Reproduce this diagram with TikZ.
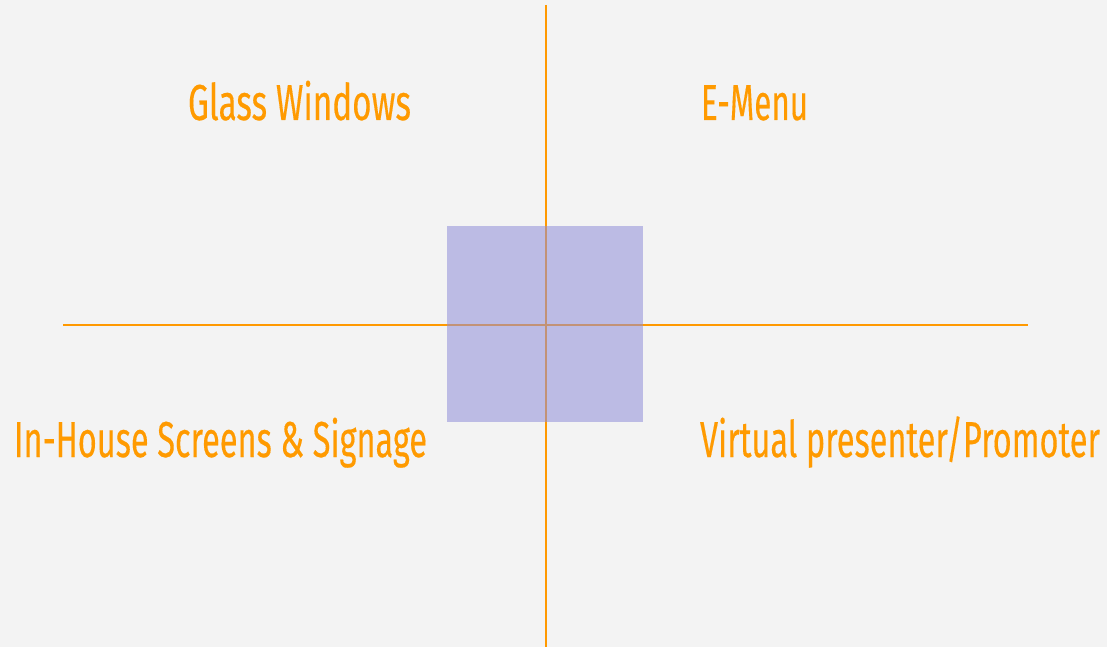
\documentclass[tikz,border=0pt]{standalone}
\usepackage{fontspec}
\setmainfont[FakeBold=0.35]{Fira Sans}
\usepackage{graphicx}
\definecolor{bg}{HTML}{F3F3F3}
\definecolor{axis}{HTML}{FF9900}
\definecolor{lbl}{HTML}{FF9A00}
\definecolor{sq}{RGB}{144,142,216}
\tikzset{
  axisline/.style={draw=axis, line width=2pt},
  label/.style={inner sep=0pt, outer sep=0pt, text=lbl, anchor=base west, font=\fontsize{50.5}{50.5}\selectfont},
  centrebox/.style={fill=sq, fill opacity=0.55, draw=none}
}
\newcommand\fitw[2]{\resizebox{#1}{\height}{#2}}
\begin{document}
\begin{tikzpicture}[x=1pt,y=-1pt]
\fill[bg] (0,0) rectangle (1107,647);
\useasboundingbox (0,0) rectangle (1107,647);
\coordinate (vtop) at (546,5);
\coordinate (vbot) at (546,647);
\coordinate (hl) at (63,325);
\coordinate (hr) at (1028,325);
\draw[axisline] (vtop) -- (vbot);
\draw[axisline] (hl) -- (hr);
\path[centrebox] (447,226) rectangle (643,422);
\node[label] (glass) at (188,120) {\fitw{223pt}{Glass Windows}};
\node[label] (emenu) at (701,120) {\fitw{107pt}{E-Menu}};
\node[label] (inhouse) at (14,457) {\fitw{413pt}{In-House Screens \& Signage}};
\node[label] (virtual) at (700,457) {\fitw{400pt}{Virtual presenter/Promoter}};
\end{tikzpicture}
\end{document}
